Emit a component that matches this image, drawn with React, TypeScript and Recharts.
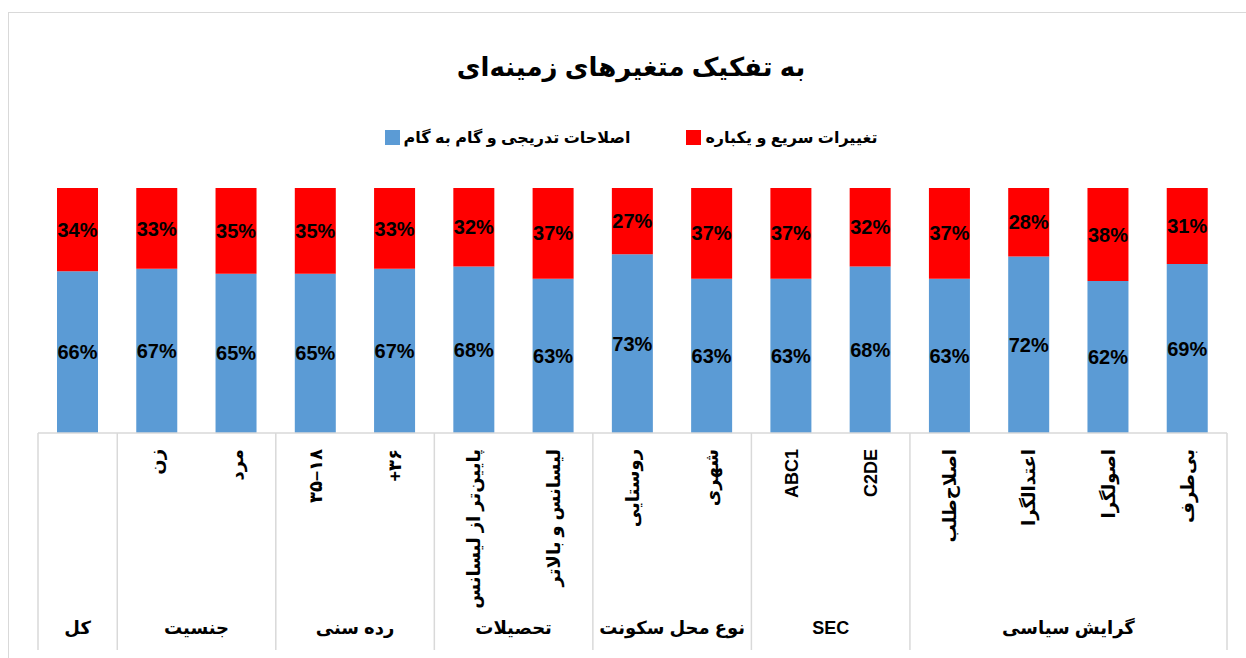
import React from 'react';
import { BarChart, Bar, XAxis, YAxis, LabelList } from 'recharts';

const categories = [
  '',
  'زن',
  'مرد',
  '\u2067۱۸–۳۵\u2069',
  '+۳۶',
  'پایین‌تر از لیسانس',
  'لیسانس و بالاتر',
  'روستایی',
  'شهری',
  'ABC1',
  'C2DE',
  'اصلاح‌طلب',
  'اعتدالگرا',
  'اصولگرا',
  'بی‌طرف',
];
const gradual = [66, 67, 65, 65, 67, 68, 63, 73, 63, 63, 68, 63, 72, 62, 69];
const rapid = [34, 33, 35, 35, 33, 32, 37, 27, 37, 37, 32, 37, 28, 38, 31];

const groupNames = ['کل', 'جنسیت', 'رده سنی', 'تحصیلات', 'نوع محل سکونت', 'SEC', 'گرایش سیاسی'];
const groupStarts = [0, 1, 3, 5, 7, 9, 11];
const groupSizes = [1, 2, 2, 2, 2, 2, 4];

const seriesNames = ['اصلاحات تدریجی و گام به گام', 'تغییرات سریع و یکباره'];
const BLUE = '#5B9BD5';
const RED = '#FF0000';
const GRID = '#D9D9D9';

const W = 1246;
const H = 658;
const M = { top: 188, right: 19, left: 38, bottom: 0 };
const AXIS_H = H - 433;
const AXIS_Y = 433;
const STEP = (W - M.left - M.right) / categories.length;
const FONT = "'Liberation Sans', 'DejaVu Sans', Arial, sans-serif";

const data = categories.map((c, i) => ({ name: c, gradual: gradual[i], rapid: rapid[i] }));

const CategoryTick = (props: any) => {
  const { x, payload } = props;
  const i = payload.index;
  const g = groupStarts.indexOf(i);
  return (
    <g>
      {payload.value ? (
        <text
          transform={`translate(${x},${AXIS_Y + 16}) rotate(-90)`}
          textAnchor="end"
          dy="0.36em"
          fontSize={18}
          fontWeight="bold"
          fontFamily={FONT}
          fill="#000"
        >
          {payload.value}
        </text>
      ) : null}
      {g >= 0 && (
        <>
          <line x1={x - STEP / 2} x2={x - STEP / 2} y1={AXIS_Y} y2={650} stroke={GRID} strokeWidth={1.5} />
          <text
            x={x + ((groupSizes[g] - 1) * STEP) / 2}
            y={634}
            textAnchor="middle"
            fontSize={18}
            fontWeight="bold"
            fontFamily={FONT}
            fill="#000"
          >
            {groupNames[g]}
          </text>
        </>
      )}
      {i === categories.length - 1 && (
        <line x1={x + STEP / 2} x2={x + STEP / 2} y1={AXIS_Y} y2={650} stroke={GRID} strokeWidth={1.5} />
      )}
    </g>
  );
};

const pct = (v: any) => `${v}%`;

const App: React.FC = () => {
  return (
    <div style={{ position: 'absolute', left: 0, top: 0, width: W, height: H, overflow: 'hidden', background: '#fff', fontFamily: FONT }}>
      <div style={{ position: 'absolute', left: 8, top: 12, width: 1400, height: 800, border: `1.5px solid ${GRID}` }} />
      <div
        dir="rtl"
        style={{ position: 'absolute', left: 0, width: 1262, top: 52, textAlign: 'center', fontSize: 26, fontWeight: 'bold', color: '#000' }}
      >
        به تفکیک متغیرهای زمینه‌ای
      </div>
      <div
        dir="rtl"
        style={{ position: 'absolute', left: 0, width: 1262, top: 128, display: 'flex', justifyContent: 'center', gap: 56, fontSize: 16, fontWeight: 'bold', color: '#000' }}
      >
        {[1, 0].map((k) => (
          <div key={k} style={{ display: 'flex', alignItems: 'center', gap: 4 }}>
            <span>{seriesNames[k]}</span>
            <span style={{ display: 'inline-block', width: 15, height: 15, background: k === 0 ? BLUE : RED }} />
          </div>
        ))}
      </div>
      <div style={{ position: 'absolute', left: 0, top: 0 }}>
        <BarChart width={W} height={H} data={data} margin={M} barSize={41}>
          <YAxis hide domain={[0, 100]} />
          <XAxis
            dataKey="name"
            interval={0}
            height={AXIS_H}
            tickLine={false}
            axisLine={{ stroke: GRID, strokeWidth: 1.5 }}
            tick={<CategoryTick />}
          />
          <Bar dataKey="gradual" stackId="a" fill={BLUE} isAnimationActive={false}>
            <LabelList dataKey="gradual" position="center" formatter={pct} fill="#000" fontSize={20} fontWeight="bold" fontFamily={FONT} />
          </Bar>
          <Bar dataKey="rapid" stackId="a" fill={RED} isAnimationActive={false}>
            <LabelList dataKey="rapid" position="center" formatter={pct} fill="#000" fontSize={20} fontWeight="bold" fontFamily={FONT} />
          </Bar>
        </BarChart>
      </div>
    </div>
  );
};

export default App;
